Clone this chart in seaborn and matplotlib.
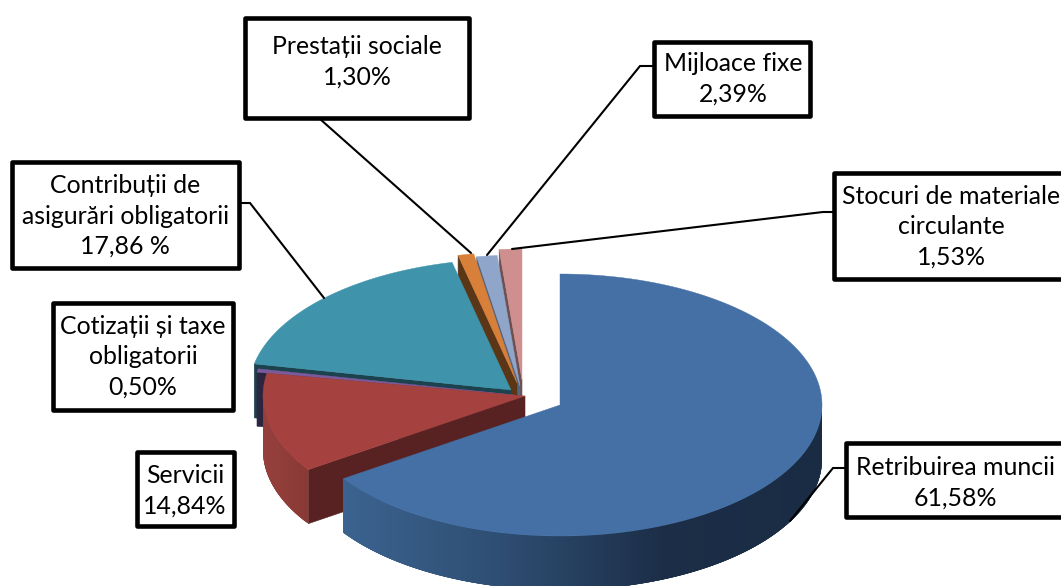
import numpy as np
import matplotlib
matplotlib.use("Agg")
import matplotlib.pyplot as plt
from matplotlib.patches import Rectangle
import seaborn as sns

# ---- data (clockwise from 12 o'clock) ----
categories = ["Retribuirea muncii", "Servicii", "Cotizații și taxe\nobligatorii",
              "Contribuții de\nasigurări obligatorii", "Prestații sociale",
              "Mijloace fixe", "Stocuri de materiale\ncirculante"]
shares = [61.58, 14.84, 0.50, 17.86, 1.30, 2.39, 1.53]
share_labels = ["61,58%", "14,84%", "0,50%", "17,86 %", "1,30%", "2,39%", "1,53%"]

# ---- styles ----
top_colors = ["#4470a5", "#a5423f", "#7b5a9c", "#3f93ab", "#d8803a", "#8fa5ca", "#cf8f8f"]
cut_colors = ["#1b2e45", "#582222", "#2b2540", "#1c424e", "#5a3617", "#566580", "#6e5050"]
side_ramps = [["#3b638f", "#2e4d72", "#1c2e47", "#1a2c44"], ["#96403c", "#8a3935"],
              ["#2b2540"], ["#1c424e"], ["#5a3617"], ["#566580"], ["#6e5050"]]

# ---- layout: exploded apex of each slice, ellipse, extrusion ----
apex_x = [560, 525, 515, 511, 517, 520, 522]
apex_y = [405, 396, 395, 390, 383, 386, 380]
RX, RY, DEPTH = 262, 131, 54
# the reference's 3D renderer widens the front of the pie: angle correction
warp_true = [0, 221.7, 276.9, 341.2, 345.9, 354.5, 360]
warp_drawn = [0, 235.8, 281.5, 347.0, 350.5, 355.0, 360]

box_xyxy = [(846, 443, 1075, 517), (137, 452, 234, 526), (53, 303, 233, 410),
            (12, 162, 239, 268), (245, 18, 469, 118), (654, 42, 810, 116), (834, 173, 1075, 279)]
text_xy = [(955, 483), (185, 491), (143, 357), (125, 216), (357, 62), (733, 79), (951, 227)]
leaders = [[(846, 468), (833, 468), (790, 521)], None, None,
           [(241, 203), (250, 203), (324, 298)], [(320, 119), (471, 253)],
           [(654, 66), (640, 66), (487, 255)], [(834, 212), (823, 212), (512, 249)]]

sns.set_theme(style="white")
plt.rcParams["font.family"] = ["Lato", "Open Sans", "DejaVu Sans"]

fig = plt.figure(figsize=(10.61, 5.86), dpi=100)
ax = fig.add_axes([0, 0, 1, 1])
ax.set_xlim(0, 1061)
ax.set_ylim(586, 0)
ax.axis("off")

edges = np.concatenate([[0], np.cumsum(shares)]) / np.sum(shares) * 360
angles = np.interp(edges, warp_true, warp_drawn)


def rim(cx, cy, a):
    r = np.radians(a)
    return cx + RX * np.sin(r), cy - RY * np.cos(r)


for i in reversed(range(len(shares))):
    a0, a1 = angles[i], angles[i + 1]
    cx, cy = apex_x[i], apex_y[i]
    base = 2 + (6 - i) * 3
    # cut face at the slice's starting edge
    ex, ey = rim(cx, cy, a0)
    ax.fill([cx, ex, ex, cx], [cy, ey, ey + DEPTH, cy + DEPTH],
            color=cut_colors[i], lw=0.4, zorder=base)
    # curved outer wall for the part that faces the viewer
    lo, hi = max(a0, 90), min(a1, 270)
    if hi > lo:
        steps = np.linspace(lo, hi, int((hi - lo) * 3) + 2)
        xs_all = rim(cx, cy, steps)[0]
        xl, xr = xs_all.min(), xs_all.max()
        ramp = sns.blend_palette(side_ramps[i], 256)
        # painted from high angle to low so every strip overlaps its neighbour
        for s0, s1 in zip(steps[:-1], steps[1:]):
            sx = np.linspace(s0, min(s1 + 1.0, hi), 4)
            x, y = rim(cx, cy, sx)
            t = (rim(cx, cy, (s0 + s1) / 2)[0] - xl) / max(xr - xl, 1)
            col = ramp[int(np.clip(t, 0, 1) * 255)]
            ax.fill(np.r_[x, x[::-1]], np.r_[y, y[::-1] + DEPTH],
                    facecolor=col, edgecolor="none", lw=0, zorder=base + 1)
    # top face
    arc = np.linspace(a0, a1, max(int(a1 - a0) * 2, 8))
    px, py = rim(cx, cy, arc)
    ax.fill(np.r_[cx, px], np.r_[cy, py], color=top_colors[i], lw=0.3, zorder=base + 2)

# leader lines and label boxes
for i, name in enumerate(categories):
    if leaders[i]:
        lx, ly = zip(*leaders[i])
        ax.plot(lx, ly, color="black", lw=1.5, zorder=40, solid_joinstyle="miter")
    x0, y0, x1, y1 = box_xyxy[i]
    ax.add_patch(Rectangle((x0, y0), x1 - x0, y1 - y0, fc="white", ec="black",
                           lw=3.3, joinstyle="round", zorder=41))
    ax.text(*text_xy[i], f"{name}\n{share_labels[i]}", ha="center", va="center",
            ma="center", fontsize=17.9, color="black", linespacing=1.39, zorder=42)

fig.savefig("out.png", dpi=100)
